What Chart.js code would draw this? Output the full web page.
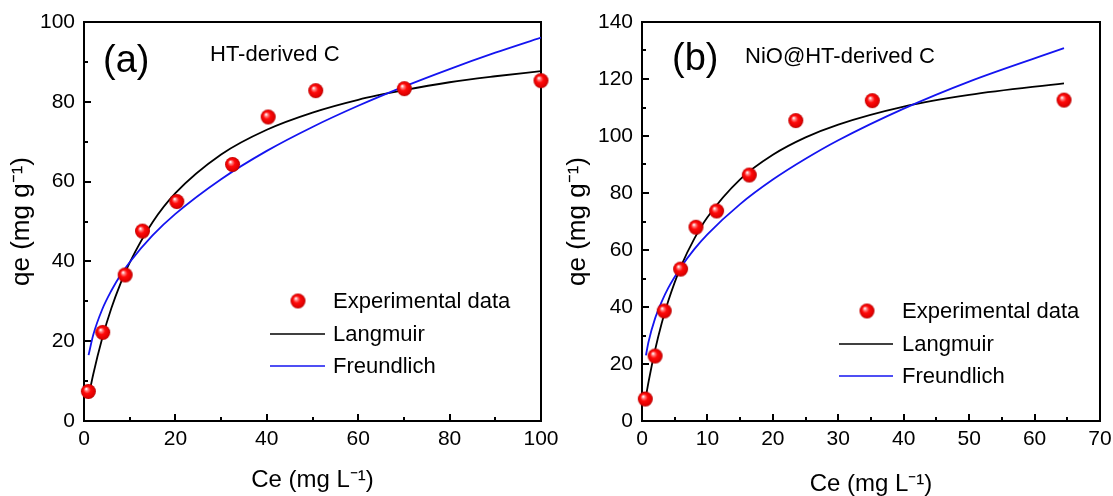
<!DOCTYPE html>
<html>
<head>
<meta charset="utf-8">
<script src="https://cdn.jsdelivr.net/npm/chart.js@4.4.1/dist/chart.umd.min.js"></script>
<style>
  html, body { margin: 0; padding: 0; background: #fff; }
  .panel { position: absolute; top: 0; height: 496px; }
  #wrapA { left: 0; width: 580px; }
  #wrapB { left: 556px; width: 557px; }
</style>
</head>
<body>
<div class="panel" id="wrapA"><canvas id="chartA"></canvas></div>
<div class="panel" id="wrapB"><canvas id="chartB"></canvas></div>
<script>
// (a) HT-derived C : experimental points
const ceA = [0.95, 4.1, 9.0, 12.8, 20.3, 32.5, 40.3, 50.7, 70.1, 100];
const qeA = [7.4, 22.2, 36.6, 47.6, 55.0, 64.3, 76.2, 82.8, 83.3, 85.3];
// (a) fitted curves
const fitCeA = [1, 2, 4, 6, 8, 10, 15, 20, 30, 40, 50, 60, 70, 80, 90, 100];
const langA = [6.1, 11.6, 20.8, 28.3, 34.5, 39.7, 49.8, 57.1, 66.8, 73.0, 77.3, 80.5, 82.9, 84.9, 86.4, 87.7];
const freuA = [16.5, 21.5, 28.0, 32.7, 36.6, 39.8, 46.5, 51.9, 60.6, 67.7, 73.7, 79.0, 83.8, 88.2, 92.3, 96.1];

// (b) NiO@HT-derived C : experimental points
const ceB = [0.5, 2.0, 3.4, 5.9, 8.25, 11.4, 16.4, 23.5, 35.2, 64.5];
const qeB = [7.7, 22.8, 38.6, 53.3, 68.0, 73.7, 86.3, 105.4, 112.4, 112.6];
// (b) fitted curves
const fitCeLangB = [0.5, 1, 2, 3, 4, 6, 8, 10, 15, 20, 25, 30, 40, 50, 64.5];
const langB = [7.2, 13.7, 24.9, 34.2, 42.0, 54.5, 64.0, 71.5, 84.8, 93.4, 99.5, 104.0, 110.3, 114.4, 118.5];
const fitCeFreuB = [0.6, 1, 2, 3, 4, 6, 8, 10, 15, 20, 25, 30, 40, 50, 64.5];
const freuB = [23.0, 27.8, 36.0, 41.8, 46.6, 54.1, 60.3, 65.5, 76.1, 84.7, 92.0, 98.5, 109.6, 119.1, 130.8];

const FONT = "'Liberation Sans', Arial, sans-serif";

// shaded red ball used as point style
function makeBall(r) {
  const c = document.createElement('canvas');
  c.width = c.height = r * 2 + 2;
  const g = c.getContext('2d');
  const cx = r + 1, cy = r + 1;
  const grad = g.createRadialGradient(cx - r * 0.3, cy - r * 0.35, r * 0.05, cx, cy, r);
  grad.addColorStop(0, '#ffffff');
  grad.addColorStop(0.18, '#ff8080');
  grad.addColorStop(0.45, '#ff0a0a');
  grad.addColorStop(0.85, '#e00000');
  grad.addColorStop(1, '#b00000');
  g.fillStyle = grad;
  g.beginPath();
  g.arc(cx, cy, r, 0, Math.PI * 2);
  g.fill();
  return c;
}
const ball = makeBall(7.5);

function pairs(xs, ys) {
  return xs.map((x, i) => ({x: x, y: ys[i]}));
}

// frame, inward ticks, legend and panel labels
const panelDecor = {
  id: 'panelDecor',
  beforeDatasetsDraw(chart, args, o) {
    const {ctx, chartArea: a, scales: {x, y}} = chart;
    ctx.save();
    ctx.strokeStyle = '#000';
    ctx.lineWidth = 2;
    ctx.strokeRect(a.left, a.top, a.right - a.left, a.bottom - a.top);
    ctx.beginPath();
    let i = 0;
    for (let v = x.min; v <= x.max + 1e-9; v += o.xMinor, i++) {
      const px = Math.round(x.getPixelForValue(v));
      const len = i % 2 === 0 ? 7 : 4;
      ctx.moveTo(px, a.bottom);
      ctx.lineTo(px, a.bottom - len);
    }
    i = 0;
    for (let v = y.min; v <= y.max + 1e-9; v += o.yMinor, i++) {
      const py = Math.round(y.getPixelForValue(v));
      const len = i % 2 === 0 ? 7 : 4;
      ctx.moveTo(a.left, py);
      ctx.lineTo(a.left + len, py);
    }
    ctx.stroke();
    ctx.restore();
  },
  afterDraw(chart, args, o) {
    const ctx = chart.ctx;
    ctx.save();
    ctx.fillStyle = '#000';
    ctx.textBaseline = 'alphabetic';
    ctx.font = '38px ' + FONT;
    ctx.fillText(o.tag, o.tagX, o.tagY);
    ctx.font = '22px ' + FONT;
    ctx.fillText(o.sample, o.sampleX, o.sampleY);

    // legend
    const L = o.legend;
    ctx.textBaseline = 'middle';
    ctx.font = '22px ' + FONT;
    chart.data.datasets.forEach((ds, k) => {
      const ly = L.rows[k];
      if (ds.showLine) {
        ctx.strokeStyle = ds.borderColor;
        ctx.lineWidth = 1.5;
        ctx.beginPath();
        ctx.moveTo(L.lineX0, ly);
        ctx.lineTo(L.lineX1, ly);
        ctx.stroke();
      } else {
        ctx.drawImage(ball, L.markX - ball.width / 2, ly - ball.height / 2);
      }
      ctx.fillText(ds.label, L.textX, ly + 1);
    });
    ctx.restore();
  }
};

function noPad(s) {
  s.paddingLeft = 0;
  s.paddingRight = 0;
  s.paddingTop = 0;
  s.paddingBottom = 0;
}

function makePanel(id, cfg) {
  return new Chart(document.getElementById(id), {
    type: 'scatter',
    data: {
      datasets: [
        {
          label: 'Experimental data',
          data: pairs(cfg.ce, cfg.qe),
          pointStyle: ball,
          showLine: false,
          clip: false,
          order: 0
        },
        {
          label: 'Langmuir',
          data: pairs(cfg.langX, cfg.lang),
          showLine: true,
          borderColor: '#000000',
          borderWidth: 1.8,
          pointRadius: 0,
          cubicInterpolationMode: 'monotone',
          order: 2
        },
        {
          label: 'Freundlich',
          data: pairs(cfg.freuX, cfg.freu),
          showLine: true,
          borderColor: '#1414f0',
          borderWidth: 1.8,
          pointRadius: 0,
          cubicInterpolationMode: 'monotone',
          order: 1
        }
      ]
    },
    options: {
      responsive: true,
      maintainAspectRatio: false,
      animation: false,
      events: [],
      layout: {
        autoPadding: false,
        padding: {top: 22, right: cfg.padRight, left: 0, bottom: 0}
      },
      plugins: {
        legend: {display: false},
        tooltip: {enabled: false},
        panelDecor: cfg.decor
      },
      scales: {
        x: {
          type: 'linear',
          min: 0,
          max: cfg.xMax,
          grid: {display: false, drawTicks: false},
          border: {display: false},
          ticks: {
            stepSize: cfg.xStep,
            padding: 6,
            color: '#000',
            maxRotation: 0,
            font: {family: FONT, size: 21}
          },
          title: {
            display: true,
            text: 'Ce (mg L\u207B\u00B9)',
            color: '#000',
            font: {family: FONT, size: 24, lineHeight: 1.2},
            padding: {top: 0, bottom: cfg.xTitlePad}
          },
          afterFit: s => { s.height = 75; noPad(s); }
        },
        y: {
          type: 'linear',
          min: 0,
          max: cfg.yMax,
          grid: {display: false, drawTicks: false},
          border: {display: false},
          ticks: {
            stepSize: 20,
            padding: 9,
            color: '#000',
            font: {family: FONT, size: 21}
          },
          title: {
            display: true,
            text: 'qe (mg g\u207B\u00B9)',
            color: '#000',
            font: {family: FONT, size: 26, lineHeight: 1.2},
            padding: {top: 6, bottom: 0}
          },
          afterFit: s => { s.width = cfg.axisW; noPad(s); }
        }
      }
    },
    plugins: [panelDecor]
  });
}

makePanel('chartA', {
  ce: ceA, qe: qeA,
  langX: fitCeA, lang: langA,
  freuX: fitCeA, freu: freuA,
  xMax: 100, xStep: 20, yMax: 100,
  axisW: 84, padRight: 39, xTitlePad: 1.6,
  decor: {
    xMinor: 10, yMinor: 10,
    tag: '(a)', tagX: 103, tagY: 72,
    sample: 'HT-derived C', sampleX: 210, sampleY: 61,
    legend: {markX: 298, lineX0: 270, lineX1: 325, textX: 333, rows: [301, 334, 366]}
  }
});

makePanel('chartB', {
  ce: ceB, qe: qeB,
  langX: fitCeLangB, lang: langB,
  freuX: fitCeFreuB, freu: freuB,
  xMax: 70, xStep: 10, yMax: 140,
  axisW: 86, padRight: 13, xTitlePad: -2.4,
  decor: {
    xMinor: 5, yMinor: 10,
    tag: '(b)', tagX: 116, tagY: 70,
    sample: 'NiO@HT-derived C', sampleX: 189, sampleY: 63,
    legend: {markX: 311, lineX0: 283, lineX1: 337, textX: 346, rows: [311, 344, 376]}
  }
});
</script>
</body>
</html>
